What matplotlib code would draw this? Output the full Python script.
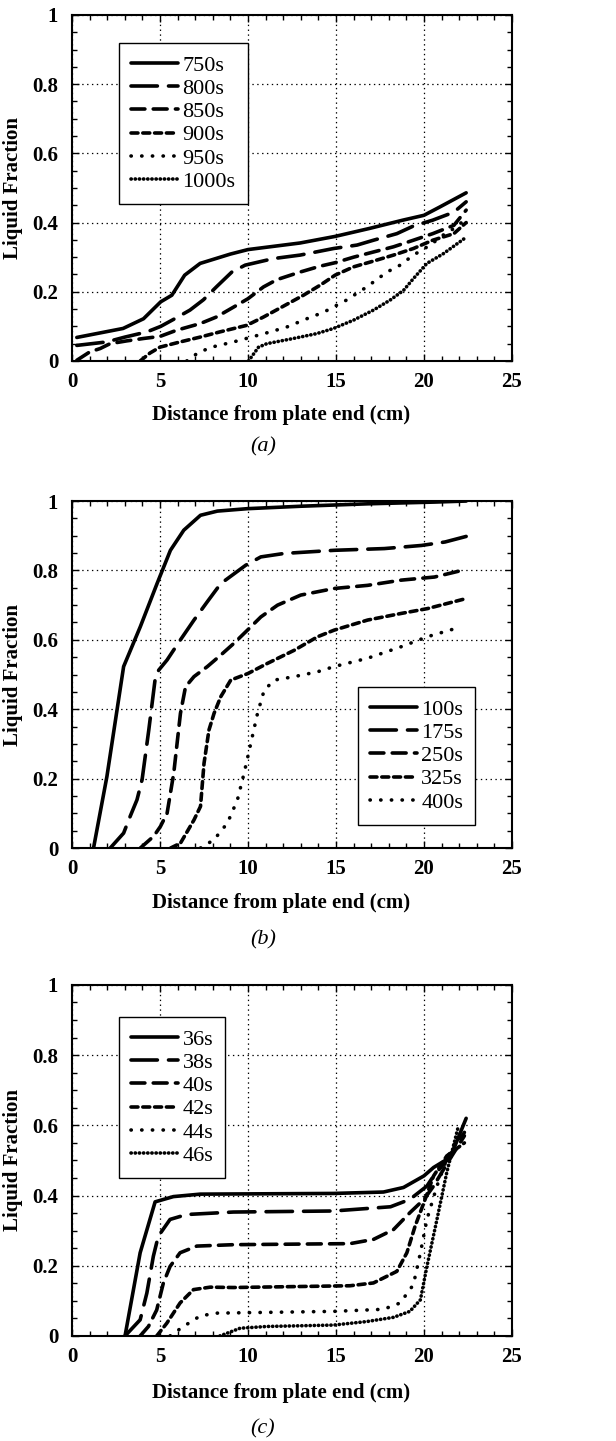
import matplotlib
matplotlib.use("Agg")
import matplotlib.pyplot as plt
from matplotlib.ticker import MultipleLocator

# ---- donnees ----
# (a) 750s .. 1000s
labels_a = ["750s", "800s", "850s", "900s", "950s", "1000s"]
x_a750 = [0.27, 2.9, 4.06, 5.04, 5.67, 6.4, 7.28, 9.0, 10.0, 12.96, 14.95, 16.9, 18.8, 20.0, 20.9, 22.4]
y_a750 = [0.068, 0.094, 0.122, 0.171, 0.19, 0.248, 0.282, 0.309, 0.322, 0.341, 0.36, 0.383, 0.407, 0.421, 0.445, 0.486]
x_a800 = [0.27, 1.97, 3.0, 4.25, 5.04, 5.76, 6.7, 7.47, 8.2, 9.08, 9.84, 11.45, 12.96, 14.86, 16.2, 17.13, 18.46, 19.4, 20.5, 21.7, 22.4]
y_a800 = [0.045, 0.055, 0.069, 0.084, 0.10, 0.12, 0.147, 0.177, 0.214, 0.257, 0.277, 0.296, 0.306, 0.325, 0.335, 0.349, 0.368, 0.39, 0.407, 0.43, 0.46]
x_a850 = [0.27, 1.0, 1.6, 2.16, 3.1, 4.06, 5.0, 5.95, 7.28, 8.2, 9.36, 10.0, 10.88, 11.64, 12.96, 14.1, 14.95, 16.0, 17.13, 18.27, 19.4, 20.5, 21.7, 22.4]
y_a850 = [0.002, 0.026, 0.036, 0.05, 0.058, 0.065, 0.071, 0.089, 0.108, 0.127, 0.161, 0.18, 0.214, 0.235, 0.257, 0.274, 0.284, 0.30, 0.315, 0.33, 0.349, 0.368, 0.392, 0.436]
x_a900 = [3.87, 4.43, 5.0, 6.14, 7.28, 8.4, 9.93, 10.88, 12.0, 13.15, 14.1, 14.95, 16.0, 16.95, 18.27, 19.4, 20.5, 21.7, 22.4]
y_a900 = [0.0, 0.023, 0.04, 0.055, 0.069, 0.084, 0.103, 0.127, 0.158, 0.19, 0.219, 0.248, 0.272, 0.286, 0.306, 0.325, 0.349, 0.368, 0.40]
x_a950 = [6.52, 7.09, 7.85, 9.17, 10.12, 11.26, 12.2, 13.34, 14.3, 15.6, 16.75, 17.9, 18.65, 19.4, 20.36, 21.1, 21.87, 22.35]
y_a950 = [0.0, 0.021, 0.039, 0.055, 0.068, 0.084, 0.098, 0.122, 0.141, 0.176, 0.214, 0.257, 0.277, 0.306, 0.335, 0.364, 0.388, 0.41]
x_a1000 = [10.03, 10.6, 11.07, 12.58, 13.9, 14.86, 16.0, 17.13, 18.08, 18.84, 19.4, 20.17, 21.1, 22.44]
y_a1000 = [0.0, 0.04, 0.05, 0.065, 0.079, 0.094, 0.118, 0.147, 0.176, 0.204, 0.238, 0.282, 0.31, 0.359]

# (b) 100s .. 400s
labels_b = ["100s", "175s", "250s", "325s", "400s"]
x_b100 = [1.22, 1.98, 2.93, 3.88, 4.83, 5.59, 6.35, 7.3, 8.26, 9.97, 13.0, 16.8, 20.6, 22.4]
y_b100 = [0.0, 0.206, 0.523, 0.638, 0.762, 0.858, 0.916, 0.959, 0.971, 0.978, 0.985, 0.992, 0.997, 1.0]
x_b175 = [2.17, 2.93, 3.3, 3.69, 3.98, 4.36, 4.74, 4.93, 5.4, 6.16, 6.93, 7.69, 8.45, 9.2, 9.87, 10.73, 12.06, 14.9, 17.75, 19.86, 21.2, 22.4]
y_b175 = [0.0, 0.043, 0.091, 0.139, 0.197, 0.34, 0.494, 0.513, 0.542, 0.6, 0.657, 0.71, 0.762, 0.79, 0.815, 0.839, 0.849, 0.858, 0.863, 0.872, 0.882, 0.898]
x_b250 = [3.88, 4.64, 5.02, 5.4, 5.78, 6.16, 6.45, 6.93, 7.69, 8.45, 9.2, 9.97, 10.73, 11.68, 13.0, 14.9, 16.8, 18.7, 20.6, 22.15]
y_b250 = [0.0, 0.034, 0.062, 0.1, 0.216, 0.388, 0.465, 0.494, 0.523, 0.556, 0.59, 0.628, 0.666, 0.7, 0.729, 0.748, 0.757, 0.772, 0.781, 0.8]
x_b325 = [5.6, 6.16, 6.93, 7.3, 7.5, 7.78, 8.07, 8.45, 9.02, 10.0, 11.1, 12.63, 13.96, 14.9, 16.8, 18.7, 20.2, 22.4]
y_b325 = [0.0, 0.014, 0.081, 0.12, 0.244, 0.34, 0.388, 0.436, 0.484, 0.503, 0.532, 0.57, 0.609, 0.628, 0.657, 0.676, 0.69, 0.719]
x_b400 = [7.3, 8.07, 8.83, 9.4, 9.78, 10.16, 10.54, 10.92, 11.5, 12.63, 13.96, 14.9, 16.8, 18.7, 20.2, 22.15]
y_b400 = [0.0, 0.024, 0.072, 0.139, 0.216, 0.302, 0.388, 0.455, 0.484, 0.494, 0.508, 0.523, 0.547, 0.58, 0.609, 0.638]

# (c) 36s .. 46s
labels_c = ["36s", "38s", "40s", "42s", "44s", "46s"]
x_c36 = [3.01, 3.87, 4.72, 5.76, 7.28, 14.86, 17.7, 18.84, 20.0, 20.55, 21.5, 22.4]
y_c36 = [0.0, 0.237, 0.382, 0.397, 0.404, 0.406, 0.41, 0.423, 0.456, 0.48, 0.509, 0.62]
x_c38 = [3.01, 3.87, 4.25, 4.62, 4.9, 5.57, 6.52, 9.17, 14.86, 18.1, 19.2, 20.17, 20.55, 21.3, 22.3]
y_c38 = [0.0, 0.046, 0.122, 0.227, 0.284, 0.332, 0.346, 0.353, 0.356, 0.368, 0.389, 0.427, 0.456, 0.5, 0.58]
x_c40 = [3.87, 4.34, 4.81, 5.19, 5.57, 6.14, 7.09, 9.17, 15.8, 17.13, 18.27, 19.2, 20.0, 20.55, 21.3, 22.3]
y_c40 = [0.0, 0.027, 0.074, 0.151, 0.198, 0.237, 0.256, 0.26, 0.263, 0.275, 0.303, 0.351, 0.389, 0.427, 0.49, 0.57]
x_c42 = [4.81, 5.38, 6.14, 6.9, 7.85, 9.17, 15.8, 17.13, 18.46, 19.03, 19.5, 20.0, 20.55, 21.3, 22.3]
y_c42 = [0.0, 0.036, 0.094, 0.132, 0.139, 0.138, 0.143, 0.151, 0.184, 0.237, 0.313, 0.38, 0.456, 0.513, 0.55]
x_c44 = [5.57, 6.33, 7.28, 8.2, 14.86, 17.7, 18.65, 19.4, 19.8, 20.17, 20.74, 21.3, 21.87, 22.3]
y_c44 = [0.0, 0.027, 0.057, 0.065, 0.07, 0.076, 0.094, 0.146, 0.237, 0.332, 0.427, 0.504, 0.561, 0.57]
x_c46 = [8.4, 9.55, 11.07, 14.86, 16.75, 18.27, 19.2, 19.8, 20.17, 20.74, 21.3, 21.97]
y_c46 = [0.0, 0.022, 0.027, 0.031, 0.041, 0.053, 0.07, 0.103, 0.198, 0.332, 0.466, 0.6]

# styles de traits (longs tirets -> pointilles serres)
styles = [
    dict(linestyle="-"),
    dict(dashes=(19, 8)),
    dict(dashes=(10, 6)),
    dict(dashes=(5, 3.5)),
    dict(dashes=(0.2, 7.5)),
    dict(dashes=(0.2, 2.8)),
]

plt.rcParams["font.family"] = ["Liberation Serif", "DejaVu Serif"]
plt.rcParams["lines.scale_dashes"] = False


def draw_panel(ax, series, labels, leg_pos):
    for (x, y), lab, st in zip(series, labels, styles):
        ax.plot(x, y, color="black", lw=2.6, label=lab,
                dash_capstyle="round", solid_capstyle="round", **st)
    ax.set_xlim(0, 25)
    ax.set_ylim(0, 1)
    ax.xaxis.set_major_locator(MultipleLocator(5))
    ax.xaxis.set_minor_locator(MultipleLocator(1))
    ax.yaxis.set_major_locator(MultipleLocator(0.2))
    ax.yaxis.set_minor_locator(MultipleLocator(0.05))
    ax.set_yticks([0, 0.2, 0.4, 0.6, 0.8, 1.0])
    ax.set_yticklabels(["0", "0.2", "0.4", "0.6", "0.8", "1"])
    ax.tick_params(which="both", direction="in", top=True, right=True,
                   labelsize=15, width=1.0)
    ax.tick_params(axis="x", pad=8)
    ax.tick_params(axis="y", pad=10)
    ax.tick_params(which="major", length=5)
    ax.tick_params(which="minor", length=3.5)
    for t in ax.get_xticklabels() + ax.get_yticklabels():
        t.set_fontweight("bold")
    for sp in ax.spines.values():
        sp.set_linewidth(1.5)
    ax.grid(True, which="major", color="black", linestyle=(0, (1, 2.5)), lw=0.9)
    ax.set_axisbelow(True)
    leg = ax.legend(loc="upper left", bbox_to_anchor=leg_pos, borderaxespad=0,
                    fontsize=16, handlelength=2.1, handletextpad=0.2,
                    labelspacing=0.12, borderpad=0.55, fancybox=False,
                    framealpha=1, edgecolor="black")
    leg.get_frame().set_linewidth(1.0)
    ax.set_ylabel("Liquid Fraction", fontsize=15, fontweight="bold")
    ax.yaxis.set_label_coords(-0.112, 0.5)


def main():
    fig = plt.figure(figsize=(6.16, 14.41), dpi=100)

    ax_a = fig.add_axes([0.117, 0.7495, 0.714, 0.2401])
    ax_b = fig.add_axes([0.117, 0.4115, 0.714, 0.2408])
    ax_c = fig.add_axes([0.117, 0.0729, 0.714, 0.2436])

    series_a = [(x_a750, y_a750), (x_a800, y_a800), (x_a850, y_a850),
                (x_a900, y_a900), (x_a950, y_a950), (x_a1000, y_a1000)]
    series_b = [(x_b100, y_b100), (x_b175, y_b175), (x_b250, y_b250),
                (x_b325, y_b325), (x_b400, y_b400)]
    series_c = [(x_c36, y_c36), (x_c38, y_c38), (x_c40, y_c40),
                (x_c42, y_c42), (x_c44, y_c44), (x_c46, y_c46)]

    draw_panel(ax_a, series_a, labels_a, (0.107, 0.919))
    draw_panel(ax_b, series_b, labels_b, (0.65, 0.464))
    draw_panel(ax_c, series_c, labels_c, (0.107, 0.909))

    # titres des axes x et legendes (a), (b), (c)
    for ypix, cap, ycap in [(415, "(a)", 447), (903, "(b)", 940), (1393, "(c)", 1429)]:
        fig.text(281 / 616, 1 - ypix / 1441, "Distance from plate end (cm)",
                 ha="center", va="center", fontsize=15, fontweight="bold")
        fig.text(263 / 616, 1 - ycap / 1441, cap, ha="center", va="center",
                 fontsize=16, fontstyle="italic")

    fig.savefig("out.png", dpi=100)


if __name__ == "__main__":
    main()
